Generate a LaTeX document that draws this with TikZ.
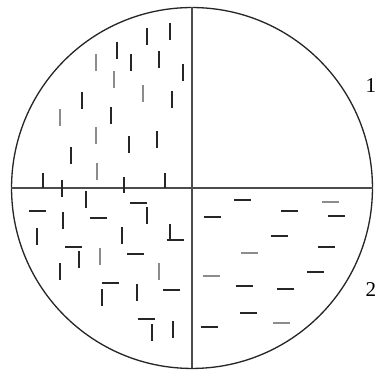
\documentclass[tikz,border=0pt]{standalone}
\usepackage{fontspec}
\setmainfont{Liberation Serif}
\begin{document}
\begin{tikzpicture}[x=0.02cm, y=-0.02cm,
  rim/.style={line width=0.75pt, black!85},
  axis/.style={line width=0.9pt, black!70},
  vbar/.style={line width=1.2pt, black!85},
  lbar/.style={line width=1.2pt, black!45},
  lab/.style={font=\fontsize{12}{14}\selectfont, inner sep=0pt}]
\useasboundingbox (0,0) rectangle (376,374);
% disc and its two diameters
\coordinate (c) at (192,188);
\coordinate (w) at (11.5,188);
\coordinate (e) at (372.5,188);
\coordinate (n) at (192,7.5);
\coordinate (s) at (192,368.5);
\draw[rim] (c) circle [radius=3.61cm];
\draw[axis] (w) -- (e);
\draw[axis] (n) -- (s);
% quadrant labels
\node[lab] (one) at (371,86) {1};
\node[lab] (two) at (371,290) {2};
% upper left: upright bars
\foreach \x/\y in {147/37,170/32,117/51,131/63,159/60,183/73,82/101,172/100,
                   111/116,129/145,157/140,71/156}
  \draw[vbar] (\x,\y-8.5) -- (\x,\y+8.5);
\foreach \x/\y in {96/63,114/80,143/94,60/118,96/136,97/172}
  \draw[lbar] (\x,\y-8.5) -- (\x,\y+8.5);
% ticks sitting on the horizontal diameter
\draw[vbar] (43,173) -- (43,188);
\draw[vbar] (62,180) -- (62,197);
\draw[vbar] (124,177) -- (124,193);
\draw[vbar] (165,173) -- (165,188);
% lower left: mixed bars
\foreach \x/\y in {86/200,63/221,37/237,147/216,122/236,170/233,79/260,60/272,
                   102/298,137/293,152/333,173/330}
  \draw[vbar] (\x,\y-8.5) -- (\x,\y+8.5);
\foreach \x/\y in {100/257,159/272}
  \draw[lbar] (\x,\y-8.5) -- (\x,\y+8.5);
\foreach \x/\y in {37.5/211,98.5/218,135.5/254,171.5/290,138.5/203,175/240,
                   73.5/247,110/283,146.5/319}
  \draw[vbar] (\x-8.5,\y) -- (\x+8.5,\y);
% lower right: flat bars
\foreach \x/\y in {242.5/200,212/217,289.5/211,336.5/216,279/236,326.5/247,
                   315.5/272,244.5/286,285.5/289,248/313,209/327}
  \draw[vbar] (\x-8.5,\y) -- (\x+8.5,\y);
\foreach \x/\y in {330.5/202,249/253,211/276,281/323}
  \draw[lbar] (\x-8.5,\y) -- (\x+8.5,\y);
\end{tikzpicture}
\end{document}
